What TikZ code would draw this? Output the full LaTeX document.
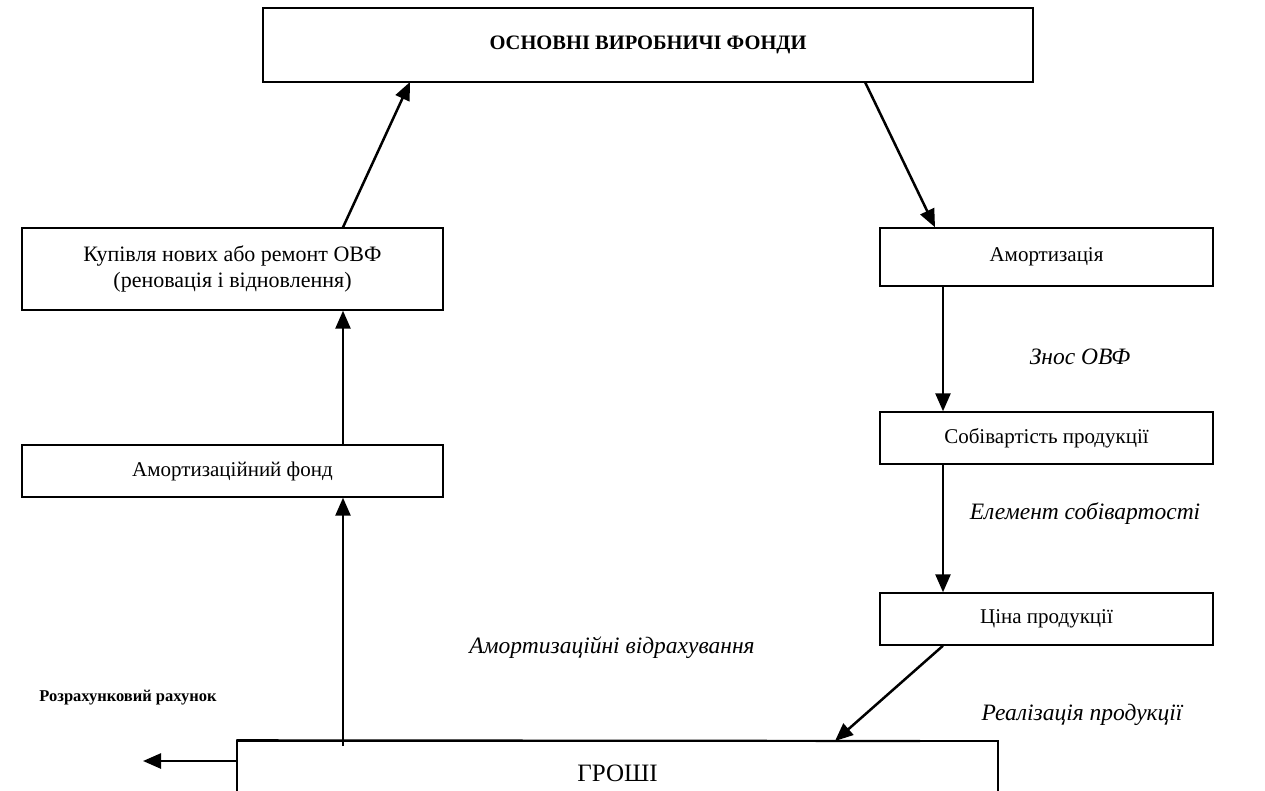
\documentclass[tikz,border=0pt]{standalone}
\usepackage{fontspec}
\setmainfont{Liberation Serif}
\usetikzlibrary{arrows.meta}
\begin{document}
\begin{tikzpicture}[x=1pt,y=-1pt,
  box/.style={draw, line width=1.4pt, inner sep=0pt, font=\fontsize{21}{24}\selectfont, align=center},
  arr/.style={line width=2.5pt, -{Triangle[length=18pt,width=15pt]}},
  lbl/.style={font=\fontsize{23.5}{27}\selectfont\itshape, inner sep=0pt}]
\useasboundingbox (0,0) rectangle (1265,791);
\clip (0,0) rectangle (1265,791);
\node[box, minimum width=770, minimum height=74, font=\fontsize{20.5}{24}\selectfont\bfseries] (ovf) at (648,45) {\raisebox{4pt}{ОСНОВНІ ВИРОБНИЧІ ФОНДИ}};
\node[box, minimum width=421, minimum height=82, font=\fontsize{22}{26}\selectfont] (buy) at (232.5,269) {Купівля нових або ремонт ОВФ\\(реновація і відновлення)};
\node[box, minimum width=421, minimum height=52] (fund) at (232.5,471) {Амортизаційний фонд};
\node[box, minimum width=333, minimum height=58] (am) at (1046.5,257) {Амортизація};
\node[box, minimum width=333, minimum height=52] (cost) at (1046.5,438) {Собівартість продукції};
\node[box, minimum width=333, minimum height=52] (price) at (1046.5,619) {Ціна продукції};
\node[box, minimum width=761, minimum height=64, font=\fontsize{25}{28}\selectfont] (money) at (617.5,773) {ГРОШІ};
\draw[line width=2.2pt] (money.north west) -- (920,741);
\coordinate (acc) at (143,761);
\draw[arr] (buy.north -| 343,0) -- (410,82);
\draw[arr] (865,82) -- (am.north -| 935,0);
\draw[arr] (am.south -| 943,0) -- (cost.north -| 943,0);
\draw[arr] (cost.south -| 943,0) -- (price.north -| 943,0);
\draw[arr] (price.south -| 943,0) -- (835,741);
\draw[arr] (343,746) -- (fund.south -| 343,0);
\draw[arr] (fund.north -| 343,0) -- (buy.south -| 343,0);
\draw[arr] (money.west |- 0,761) -- (acc);
\node[lbl] (l1) at (1080,357) {Знос ОВФ};
\node[lbl] (l2) at (1085,514) {Елемент собівартості};
\node[lbl] (l3) at (612,648) {Амортизаційні відрахування};
\node[lbl] (l4) at (1082,715) {Реалізація продукції};
\node[font=\fontsize{16.5}{19}\selectfont\bfseries, inner sep=0pt] (l5) at (128,698) {Розрахунковий рахунок};
\end{tikzpicture}
\end{document}
